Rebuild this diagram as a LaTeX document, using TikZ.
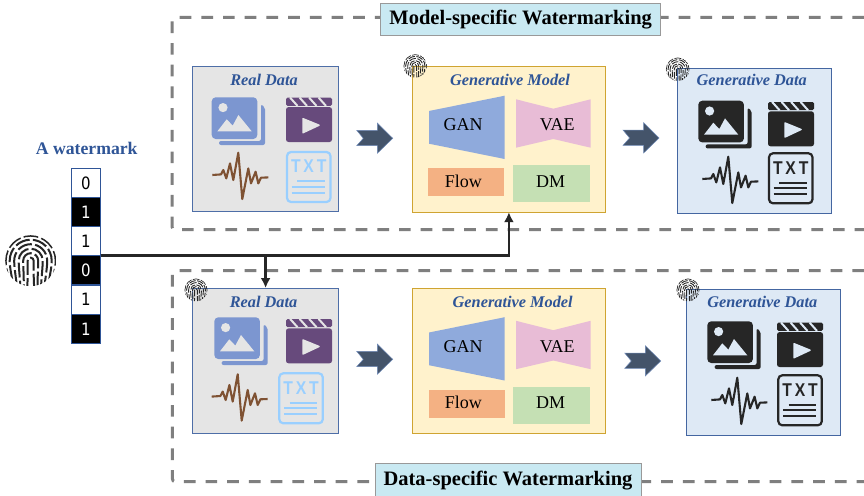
\documentclass[tikz,border=0pt]{standalone}
\usepackage{fontspec}
\setmainfont{Liberation Serif}
\newfontfamily\digitfont[FakeStretch=0.88]{DejaVu Sans}
\newfontfamily\txtfont[FakeStretch=0.85]{Liberation Sans}
\usetikzlibrary{arrows.meta}
\definecolor{framegray}{HTML}{7F7F7F}
\definecolor{titleblue}{HTML}{2F5597}
\definecolor{realfill}{HTML}{E5E5E5}
\definecolor{modelfill}{HTML}{FFF2CC}
\definecolor{modeledge}{HTML}{CFA431}
\definecolor{genfill}{HTML}{DEE9F5}
\definecolor{ganfill}{HTML}{8FAADC}
\definecolor{vaefill}{HTML}{E8BCD6}
\definecolor{flowfill}{HTML}{F4B183}
\definecolor{dmfill}{HTML}{C5E0B4}
\definecolor{photoblue}{HTML}{7C96D0}
\definecolor{videopurple}{HTML}{674A7C}
\definecolor{wavebrown}{HTML}{7F5233}
\definecolor{txtblue}{HTML}{99CFFF}
\definecolor{inkdark}{HTML}{262626}
\definecolor{bannerfill}{HTML}{C9E9F2}
\definecolor{arrowfill}{HTML}{44546A}
\tikzset{
  x=1pt,y=-1pt,
  framedash/.style={draw=framegray,line width=3pt,dash pattern=on 11.7pt off 10pt,rounded corners=3pt},
  banner/.style={draw=black!40,line width=1pt,fill=bannerfill,inner sep=0pt,outer sep=0pt,font=\fontsize{20.5}{23}\selectfont\bfseries,text=black},
  panel/.style={line width=0.9pt,inner sep=0pt,outer sep=0pt},
  realpanel/.style={panel,draw=titleblue!85,fill=realfill,minimum width=146.2pt,minimum height=145pt},
  modelpanel/.style={panel,draw=modeledge,fill=modelfill,minimum width=192.6pt,minimum height=145.4pt},
  genpanel/.style={panel,draw=titleblue!90,fill=genfill,minimum width=154.4pt,minimum height=145.5pt},
  paneltitle/.style={font=\fontsize{16.3}{18}\selectfont\bfseries\itshape,text=titleblue,inner sep=0pt},
  modellabel/.style={font=\fontsize{18}{20}\selectfont,text=black,inner sep=0pt},
  bitcell/.style={draw=titleblue,line width=1pt,minimum width=29.4pt,minimum height=29.17pt,inner sep=0pt,outer sep=0pt,font=\digitfont\fontsize{17}{20}\selectfont},
  whitebit/.style={bitcell,fill=white,text=black},
  blackbit/.style={bitcell,fill=black,text=white},
  wire/.style={draw=inkdark,line width=2.8pt},
  wiretip/.style={draw=inkdark,line width=2.8pt,-{Latex[length=10pt,width=10pt]}},
  notch/.style={fill=arrowfill,draw=titleblue!70,line width=0.5pt},
}
% photo icon
\newcommand\iconphoto[4]{\begin{scope}[shift={(#1,#2)}]
  \fill[#3,rounded corners=4pt] (0,0) rectangle (45.6,41.7);
  \fill[#3,rounded corners=2pt] (49.3,7) -- (53.3,10) -- (53.3,47.7) -- (7.3,47.7) -- (7.3,43.7) -- (49.3,43.7) -- cycle;
  \fill[#4] (11.3,10.3) circle[radius=4.6];
  \fill[#4] (5.7,34) -- (15,22) -- (21,28.3) -- (26.7,17.7) -- (40,34) -- cycle;
\end{scope}}
% clapper icon
\newcommand\iconvideo[4]{\begin{scope}[shift={(#1,#2)}]
  \fill[#3,rounded corners=1.5pt] (0,0) rectangle (46,8.2);
  \fill[#3,rounded corners=2.5pt] (0,9.4) rectangle (46,44.3);
  \foreach \s in {4,13.5,23,32.5}{\draw[#4,line width=2pt] (\s,-0.2) -- (\s+7.5,8.2);}
  \fill[#4,draw=#4,line width=1.5pt,line join=round] (17,21) -- (33,27.5) -- (17,35) -- cycle;
\end{scope}}
% signal icon
\newcommand\iconwave[3]{\begin{scope}[shift={(#1,#2)}]
  \draw[#3,line width=2.1pt,line join=round] (0,23.3) -- (8.7,22.7) -- (11,18.3) -- (14,26.7) -- (17.7,11.7) -- (21,28.3) -- (26,1) -- (30,47.3) -- (36,16.7) -- (38.7,31.7) -- (43.3,20) -- (46,31.7) -- (48.7,26) -- (56,25.7);
\end{scope}}
% text page icon
\newcommand\icontxt[3]{\begin{scope}[shift={(#1,#2)}]
  \draw[#3,line width=2.2pt,rounded corners=4pt] (1,1) rectangle (44.5,51);
  \node[text=#3,inner sep=0pt,font=\txtfont\bfseries\fontsize{18.5}{19}\selectfont] at (22.7,15.5) {T\hspace{2.8pt}X\hspace{2.8pt}T};
  \draw[#3,line width=2pt] (11.3,30.3) -- (39,30.3) (5.7,36) -- (39,36) (5.7,41.7) -- (39,41.7);
\end{scope}}
% fingerprint
\newcommand\fingermark[4]{\begin{scope}[shift={(#1,#2)}]
  \pgfmathsetmacro\fa{#3*0.6}\pgfmathsetmacro\fb{#3*0.13}
  \begin{scope}[x=#3pt,y=#3pt]
  \clip (0,0) circle[radius=1.02];
  \foreach \rr/\ph in {0.12/0.1,0.3/0.35,0.48/0.2,0.66/0.5,0.84/0.3,1.0/0.42}{
    \pgfmathsetmacro\dph{\ph*#3}
    \draw[inkdark,line width=#4pt,dash pattern=on \fa pt off \fb pt,dash phase=\dph pt]
      (-0.72*\rr-0.06,-1.2) .. controls (-0.9*\rr,-0.6) and (-\rr,-0.3) .. (-\rr,0) arc[start angle=180,end angle=0,radius=\rr] .. controls (\rr,-0.3) and (0.9*\rr,-0.6) .. (0.72*\rr+0.06,-1.2);
  }
  \end{scope}
\end{scope}}
% notched block arrow, given its tip
\newcommand\notcharrow[2]{\path[notch] (#1-36,#2-8) -- (#1-15.4,#2-8) -- (#1-15.4,#2-15.3) -- (#1,#2) -- (#1-15.4,#2+15) -- (#1-15.4,#2+7.4) -- (#1-36,#2+7.4) -- (#1-29.4,#2) -- cycle;}
% internals of a generative model panel
\newcommand\modelparts[3]{\begin{scope}[shift={(0,#2)}]
  \fill[ganfill] (429,111) -- (504.7,95.7) -- (504.7,159) -- (429,143.7) -- cycle;
  \fill[vaefill] (516,99.3) -- (553.3,108.7) -- (590.7,99.3) -- (590.7,147.7) -- (553.3,139) -- (516,147.7) -- cycle;
  \fill[flowfill] (428+#3,168) rectangle (504+#3,196);
  \fill[dmfill] (513,165) rectangle (590,202);
  \node[modellabel] (gan#1) at (463,125) {GAN};
  \node[modellabel] (vae#1) at (557.3,125) {VAE};
  \node[modellabel] (flow#1) at (463.3,181.3) {Flow};
  \node[modellabel] (dm#1) at (550.7,181.3) {DM};
\end{scope}}
\begin{document}
\begin{tikzpicture}
\useasboundingbox (0,0) rectangle (864,495);
\fill[white] (0,0) rectangle (864,495);
% dashed frames
\path[framedash] (864,17.5) -- (172,17.5) -- (172,229.7) -- (864,229.7);
\path[framedash] (864,270.7) -- (172.3,270.7) -- (172.3,481.7) -- (864,481.7);
\node[banner,minimum width=280pt,minimum height=32.4pt] (topbanner) at (520.7,19.5) {Model-specific Watermarking};
\node[banner,minimum width=266pt,minimum height=35pt] (botbanner) at (508,480.7) {Data-specific Watermarking};
% panels
\node[realpanel] (real1) at (265.6,139.2) {};
\node[modelpanel] (model1) at (508.9,139.5) {};
\node[genpanel] (gen1) at (754.5,141) {};
\node[realpanel] (real2) at (265.6,360.5) {};
\node[modelpanel] (model2) at (509,360.7) {};
\node[genpanel] (gen2) at (763.2,362.2) {};
\node[paneltitle] (realt1) at (264,80) {Real Data};
\node[paneltitle] (modelt1) at (510,80) {Generative Model};
\node[paneltitle] (gent1) at (751.7,80) {Generative Data};
\node[paneltitle] (realt2) at (263.5,301.7) {Real Data};
\node[paneltitle] (modelt2) at (512.7,301.7) {Generative Model};
\node[paneltitle] (gent2) at (762.3,301.7) {Generative Data};
\modelparts{1}{0}{0}
\modelparts{2}{221.5}{1}
% icons
\iconphoto{211.7}{97.3}{photoblue}{realfill}
\iconvideo{286}{97.7}{videopurple}{realfill}
\iconwave{212.3}{151.7}{wavebrown}
\icontxt{286}{151}{txtblue}
\iconphoto{214.3}{317.3}{photoblue}{realfill}
\iconvideo{286}{319}{videopurple}{realfill}
\iconwave{211.7}{373.3}{wavebrown}
\icontxt{278.3}{372.3}{txtblue}
\iconphoto{698.3}{100.7}{inkdark}{genfill}
\iconvideo{768}{102}{inkdark}{genfill}
\iconwave{702.3}{155.7}{inkdark}
\icontxt{768}{152.3}{inkdark}
\iconphoto{707.3}{321.3}{inkdark}{genfill}
\iconvideo{777}{322.7}{inkdark}{genfill}
\iconwave{711.3}{376.7}{inkdark}
\icontxt{777.3}{374.3}{inkdark}
% block arrows
\notcharrow{392.7}{138.3}
\notcharrow{659}{138}
\notcharrow{392.7}{359.3}
\notcharrow{660.7}{361}
% watermark
\node[font=\fontsize{17.7}{20}\selectfont\bfseries,text=titleblue,inner sep=0pt] (wmtitle) at (86.7,148.3) {A watermark};
\node[whitebit] (cell1) at (86,182.9) {0};
\node[blackbit] (cell2) at (86,212.1) {1};
\node[whitebit] (cell3) at (86,241.2) {1};
\node[blackbit] (cell4) at (86,270.4) {0};
\node[whitebit] (cell5) at (86,299.6) {1};
\node[blackbit] (cell6) at (86,328.8) {1};
% connectors
\coordinate (junction) at (real2.north |- cell3.south);
\draw[wire,line width=3.3pt] (cell3.south east) -- (junction);
\draw[wire,line join=miter] (junction) -- (model1.south |- junction) -- ([yshift=-20pt]model1.south);
\draw[wiretip] (junction) -- (real2.north);
\draw[wiretip] ([yshift=-20pt]model1.south) -- (model1.south);
% fingerprints
\fingermark{30.7}{260.7}{25}{2}
\fingermark{415.3}{66}{11.5}{0.9}
\fingermark{677.7}{69.3}{11.5}{0.9}
\fingermark{196}{290}{11.2}{0.9}
\fingermark{688}{290}{11.2}{0.9}
\end{tikzpicture}
\end{document}
